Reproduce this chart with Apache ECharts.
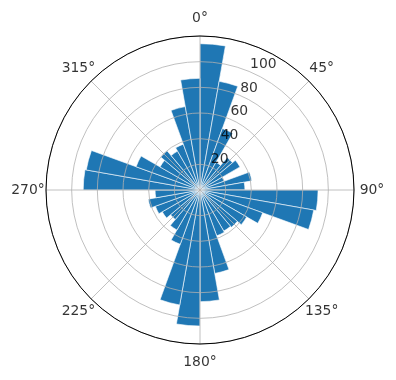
<!DOCTYPE html>
<html><head><meta charset="utf-8">
<script src="https://cdn.jsdelivr.net/npm/echarts@6/dist/echarts.min.js"></script>
<style>html,body{margin:0;padding:0;background:#fff}#c{width:396px;height:380px}</style>
</head><body><div id="c"></div>
<script>
// bar sectors: 36 bins of 10 degrees, clockwise from north
const sectors = ['0','10','20','30','40','50','60','70','80','90','100','110','120','130','140','150','160','170',
  '180','190','200','210','220','230','240','250','260','270','280','290','300','310','320','330','340','350'];
const values = [114, 86, 51, 25, 33, 36, 20, 41, 35,
                92, 90, 52, 42, 38, 37, 38, 66, 87,
                106, 91, 45, 36, 30, 34, 37, 41, 35,
                91, 90, 53, 36, 40, 35, 38, 66, 87];
const angleTicks = [0, 45, 90, 135, 180, 225, 270, 315];
const radiusTicks = [20, 40, 60, 80, 100];
const radiusLabelAngle = 22.5;

const chart = echarts.init(document.getElementById('c'), null, {renderer: 'canvas'});
const C = [200, 190], R = 154, RLAB = 172;
const font = {fontFamily: 'DejaVu Sans', fontSize: 13.9, color: '#000'};
const hidden = {axisLine: {show: false}, axisTick: {show: false}, axisLabel: {show: false}, splitLine: {show: false}};
chart.setOption({
  animation: false,
  polar: [
    {center: C, radius: R},
    {center: C, radius: R},
    {center: C, radius: RLAB}
  ],
  angleAxis: [
    Object.assign({polarIndex: 0, type: 'category', data: sectors, startAngle: 90, clockwise: true, boundaryGap: true}, hidden),
    {polarIndex: 1, type: 'value', min: 0, max: 360, interval: 45, startAngle: 90, clockwise: true, z: 10,
     axisLine: {show: true, lineStyle: {color: '#000', width: 1}}, axisTick: {show: false},
     axisLabel: {show: false},
     splitLine: {show: true, lineStyle: {color: '#b0b0b0', width: 0.8}}},
    Object.assign({polarIndex: 2, type: 'value', min: 0, max: 360, startAngle: 90, clockwise: true}, hidden)
  ],
  radiusAxis: [
    Object.assign({polarIndex: 0, type: 'value', min: 0, max: 120}, hidden),
    {polarIndex: 1, type: 'value', min: 0, max: 120, interval: 20, z: 10,
     axisLine: {show: false}, axisTick: {show: false}, axisLabel: {show: false},
     splitLine: {show: true, lineStyle: {color: '#b0b0b0', width: 0.8}}},
    Object.assign({polarIndex: 2, type: 'value', min: 0, max: 1}, hidden)
  ],
  series: [{
    type: 'bar', coordinateSystem: 'polar', polarIndex: 0,
    data: values, barCategoryGap: '0%',
    itemStyle: {color: '#1f77b4', borderColor: '#fff', borderWidth: 0.6}
  }, {
    type: 'scatter', coordinateSystem: 'polar', polarIndex: 1, z: 20,
    symbolSize: 0.01, silent: true,
    data: radiusTicks.map(r => [r, radiusLabelAngle]),
    label: Object.assign({show: true, position: [1, 0], align: 'left', verticalAlign: 'bottom',
      formatter: p => String(p.value[0])}, font)
  }, {
    type: 'scatter', coordinateSystem: 'polar', polarIndex: 2, z: 20,
    symbolSize: 0.01, silent: true,
    data: angleTicks.map(a => [1, a]),
    label: Object.assign({show: true, position: [0, 0], align: 'center', verticalAlign: 'middle',
      formatter: p => p.value[1] + '°'}, font)
  }]
});
</script></body></html>
